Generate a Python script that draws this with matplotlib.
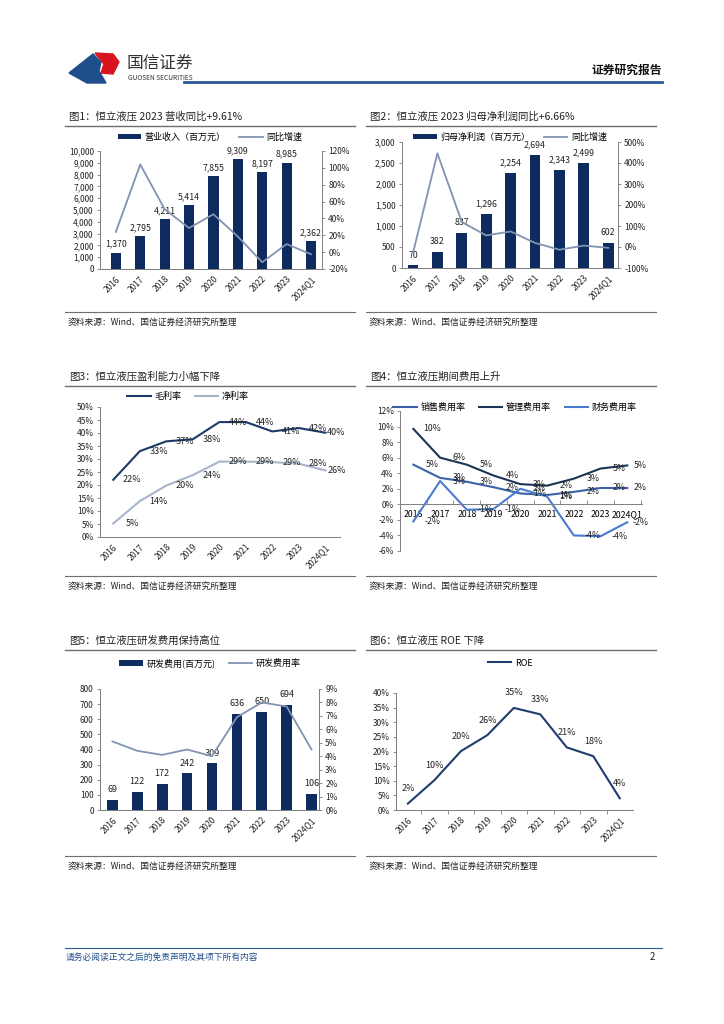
import numpy as np
import matplotlib
matplotlib.use("Agg")
import matplotlib.pyplot as plt
from matplotlib.lines import Line2D
from matplotlib.patches import Polygon

plt.rcParams['font.family'] = ['Noto Sans CJK SC', 'DejaVu Sans']
plt.rcParams['axes.unicode_minus'] = False

# ---- data ----
years = ['2016', '2017', '2018', '2019', '2020', '2021', '2022', '2023', '2024Q1']

revenue = [1370, 2795, 4211, 5414, 7855, 9309, 8197, 8985, 2362]
revenue_yoy = [24, 104, 51, 28.6, 45, 18.5, -12, 9.6, -2.5]

net_profit = [70, 382, 837, 1296, 2254, 2694, 2343, 2499, 602]
net_profit_yoy = [-29, 446, 119, 55, 74, 19.5, -13, 6.66, -4]

gross_margin = [22, 33, 36.8, 37.6, 44.2, 44.2, 40.6, 41.9, 40.1]
net_margin = [5.2, 13.8, 19.8, 23.8, 29.0, 29.0, 28.8, 28.2, 25.6]

sales_rate = [5.1, 3.4, 2.9, 2.2, 1.4, 1.2, 1.6, 2.1, 2.1]
admin_rate = [9.7, 6.0, 5.1, 3.7, 2.6, 2.4, 3.3, 4.6, 5.0]
fin_rate = [-2.2, 3.0, -0.7, -0.6, 2.0, 1.0, -4.0, -4.1, -2.3]

rd_expense = [69, 122, 172, 242, 309, 636, 650, 694, 106]
rd_rate = [5.1, 4.4, 4.1, 4.5, 4.0, 6.9, 8.0, 7.7, 4.5]

roe = [2.2, 10.2, 20.1, 25.6, 34.9, 32.7, 21.4, 18.4, 4.0]

NAVY = '#0d2b5e'
GRAYBLUE = '#8193b1'
SPINE = '#7f7f7f'
TXT = '#222222'

W, H = 724, 1024
fig = plt.figure(figsize=(W / 100, H / 100), dpi=100)


def box(l, t, r, b):
    return [l / W, 1 - b / H, (r - l) / W, (b - t) / H]


def ftext(x, y, s, **kw):
    kw.setdefault('va', 'center')
    kw.setdefault('color', TXT)
    fig.text(x / W, 1 - y / H, s, **kw)


def hline(x0, x1, y, color='#808080', lw=0.8):
    fig.add_artist(Line2D([x0 / W, x1 / W], [1 - y / H, 1 - y / H],
                          transform=fig.transFigure, color=color, lw=lw))


def style(ax, spines=('left', 'bottom')):
    for s in ['left', 'right', 'top', 'bottom']:
        ax.spines[s].set_visible(s in spines)
        ax.spines[s].set_color(SPINE)
        ax.spines[s].set_linewidth(0.7)
    ax.tick_params(labelsize=6, length=2.5, width=0.6, color=SPINE, pad=2, labelcolor=TXT)


def legend(ax, handles, labels, cx, cy, ncol):
    ax.legend(handles, labels, loc='center', bbox_to_anchor=(cx / W, 1 - cy / H),
              bbox_transform=fig.transFigure, ncol=ncol, frameon=False, fontsize=6.5,
              handlelength=2.6, handleheight=0.6, columnspacing=1.5, handletextpad=0.4)


def rot_xticks(ax):
    ax.set_xticks(np.arange(len(years)))
    ax.set_xticklabels(years, rotation=45, ha='right', rotation_mode='anchor', fontsize=6)
    ax.tick_params(axis='x', length=0, pad=4)


def chart_frame(x0, x1, ytitle, title, ysrc):
    ftext(x0 + 4, ytitle, title, fontsize=7.5)
    hline(x0, x1, ytitle + 9, color='#6f6f6f', lw=1.0)
    hline(x0, x1, ysrc - 10, color='#6f6f6f', lw=0.8)
    ftext(x0 + 3, ysrc, '资料来源：Wind、国信证券经济研究所整理', fontsize=6.3)


x = np.arange(len(years))

# ---- header / footer ----
fig.add_artist(Polygon([(69 / W, 1 - 73 / H), (93 / W, 1 - 54 / H), (101 / W, 1 - 62 / H),
                        (99 / W, 1 - 71 / H), (106 / W, 1 - 83 / H), (87 / W, 1 - 83 / H)],
                       closed=True, transform=fig.transFigure, color='#1f4e8c'))
fig.add_artist(Polygon([(95 / W, 1 - 53 / H), (113 / W, 1 - 54 / H), (119 / W, 1 - 62 / H),
                        (113 / W, 1 - 74 / H), (101 / W, 1 - 73 / H), (104 / W, 1 - 64 / H)],
                       closed=True, transform=fig.transFigure, color='#d7141f'))
ftext(127, 63, '国信证券', fontsize=12, color='#333333')
ftext(128, 78, 'GUOSEN SECURITIES', fontsize=4.8, color='#333333')
hline(184, 662, 82, color='#2a5a94', lw=2)
ftext(662, 70, '证券研究报告', fontsize=8.5, ha='right', weight='bold', color='#111111')
hline(65, 662, 948, color='#2a5a94', lw=0.8)
ftext(66, 957, '请务必阅读正文之后的免责声明及其项下所有内容', fontsize=6.3,
      style='italic', color='#1f4e8c')
ftext(655, 957, '2', fontsize=7, ha='right')

# ---- chart 1 ----
chart_frame(65, 355, 117, '图1：恒立液压 2023 营收同比+9.61%', 322)
ax = fig.add_axes(box(100, 151, 322, 269))
bars = ax.bar(x, revenue, 0.42, color=NAVY, zorder=2)
for i, v in enumerate(revenue):
    ax.annotate(f'{v:,}', (i, v), xytext=(0, 3), textcoords='offset points',
                ha='center', va='bottom', fontsize=6.3, color=TXT)
ax.set_ylim(0, 10000)
ax.set_yticks(np.arange(0, 10001, 1000))
ax.set_yticklabels([f'{v:,}' for v in range(0, 10001, 1000)])
ax.set_xlim(-0.65, 8.45)
style(ax, ('left', 'right', 'bottom'))
rot_xticks(ax)
ax2 = ax.twinx()
ln, = ax2.plot(x, revenue_yoy, color=GRAYBLUE, lw=1.3)
ax2.set_ylim(-20, 120)
ax2.set_yticks(np.arange(-20, 121, 20))
ax2.set_yticklabels([f'{v}%' for v in range(-20, 121, 20)])
style(ax2, ('left', 'right', 'bottom'))
legend(ax2, [bars, ln], ['营业收入（百万元）', '同比增速'], 210, 137, 2)

# ---- chart 2 ----
chart_frame(366, 656, 117, '图2：恒立液压 2023 归母净利润同比+6.66%', 322)
ax = fig.add_axes(box(402, 142, 618, 268))
bars = ax.bar(x, net_profit, 0.44, color=NAVY, zorder=2)
for i, v in enumerate(net_profit):
    ax.annotate(f'{v:,}', (i, v), xytext=(0, 4), textcoords='offset points',
                ha='center', va='bottom', fontsize=6.3, color=TXT)
ax.set_ylim(0, 3000)
ax.set_yticks(np.arange(0, 3001, 500))
ax.set_yticklabels([f'{v:,}' for v in range(0, 3001, 500)])
ax.set_xlim(-0.45, 8.4)
style(ax, ('left', 'right', 'bottom'))
rot_xticks(ax)
ax2 = ax.twinx()
ln, = ax2.plot(x, net_profit_yoy, color=GRAYBLUE, lw=1.3)
ax2.set_ylim(-100, 500)
ax2.set_yticks(np.arange(-100, 501, 100))
ax2.set_yticklabels([f'{v}%' for v in range(-100, 501, 100)])
style(ax2, ('left', 'right', 'bottom'))
legend(ax2, [bars, ln], ['归母净利润（百万元）', '同比增速'], 510, 137, 2)

# ---- chart 3 ----
chart_frame(65, 355, 377, '图3：恒立液压盈利能力小幅下降', 586)
ax = fig.add_axes(box(100, 407, 340, 537))
l1, = ax.plot(x, gross_margin, color='#1b3a6b', lw=1.5)
l2, = ax.plot(x, net_margin, color='#a7b5ca', lw=1.5)
for series in (gross_margin, net_margin):
    for i, v in enumerate(series):
        dx = 11 if i == len(series) - 1 else 19
        ax.annotate(f'{v:.0f}%', (i, v), xytext=(dx, 0), textcoords='offset pixels',
                    ha='center', va='center', fontsize=6.5, color=TXT)
ax.set_ylim(0, 50)
ax.set_yticks(np.arange(0, 51, 5))
ax.set_yticklabels([f'{v}%' for v in range(0, 51, 5)])
ax.set_xlim(-0.5, 8.55)
style(ax)
rot_xticks(ax)
legend(ax, [l1, l2], ['毛利率', '净利率'], 188, 396, 2)

# ---- chart 4 ----
chart_frame(366, 656, 377, '图4：恒立液压期间费用上升', 586)
ax = fig.add_axes(box(400, 411, 642, 551))
l1, = ax.plot(x, sales_rate, color='#3b62a6', lw=1.5)
l2, = ax.plot(x, admin_rate, color='#1c3557', lw=1.5)
l3, = ax.plot(x, fin_rate, color='#4a7bd0', lw=1.5)
for series in (sales_rate, admin_rate, fin_rate):
    for i, v in enumerate(series):
        dx = 13 if i == len(series) - 1 else 19
        ax.annotate(f'{v:.0f}%', (i, v), xytext=(dx, 0), textcoords='offset pixels',
                    ha='center', va='center', fontsize=6.3, color=TXT)
ax.set_ylim(-6, 12)
ax.set_yticks(np.arange(-6, 13, 2))
ax.set_yticklabels([f'{v}%' for v in range(-6, 13, 2)])
ax.set_xlim(-0.5, 8.55)
style(ax)
ax.spines['bottom'].set_position(('data', 0))
ax.set_xticks(x + 0.5)
ax.set_xticklabels([])
ax.set_xticks(x, minor=True)
ax.set_xticklabels(years, minor=True, fontsize=6.3)
ax.tick_params(axis='x', which='minor', length=0, pad=4)
ax.tick_params(axis='x', which='major', direction='in', length=3)
legend(ax, [l1, l2, l3], ['销售费用率', '管理费用率', '财务费用率'], 515, 407, 3)

# ---- chart 5 ----
chart_frame(65, 355, 641, '图5：恒立液压研发费用保持高位', 866)
ax = fig.add_axes(box(100, 689, 319, 810))
bars = ax.bar(x, rd_expense, 0.43, color=NAVY, zorder=2)
for i, v in enumerate(rd_expense):
    ax.annotate(f'{v:,}', (i, v), xytext=(0, 4), textcoords='offset points',
                ha='center', va='bottom', fontsize=6.5, color=TXT)
ax.set_ylim(0, 800)
ax.set_yticks(np.arange(0, 801, 100))
ax.set_xlim(-0.5, 8.3)
style(ax, ('left', 'right', 'bottom'))
rot_xticks(ax)
ax2 = ax.twinx()
ln, = ax2.plot(x, rd_rate, color=GRAYBLUE, lw=1.3)
ax2.set_ylim(0, 9)
ax2.set_yticks(np.arange(0, 10, 1))
ax2.set_yticklabels([f'{v}%' for v in range(0, 10)])
style(ax2, ('left', 'right', 'bottom'))
legend(ax2, [bars, ln], ['研发费用(百万元)', '研发费用率'], 210, 663, 2)

# ---- chart 6 ----
chart_frame(366, 656, 641, '图6：恒立液压 ROE 下降', 866)
ax = fig.add_axes(box(396, 693, 633, 810))
ln, = ax.plot(x, roe, color='#1f3d6e', lw=1.5)
for i, v in enumerate(roe):
    ax.annotate(f'{v:.0f}%', (i, v), xytext=(0, 15), textcoords='offset pixels',
                ha='center', va='center', fontsize=6.5, color=TXT)
ax.set_ylim(0, 40)
ax.set_yticks(np.arange(0, 41, 5))
ax.set_yticklabels([f'{v}%' for v in range(0, 41, 5)])
ax.set_xlim(-0.45, 8.5)
style(ax)
rot_xticks(ax)
ax.set_xticks(x[:-1] + 0.5, minor=True)
ax.tick_params(axis='x', which='minor', length=3, width=0.6, color=SPINE)
legend(ax, [ln], ['ROE'], 510, 663, 1)

fig.savefig('out.png', dpi=100)
